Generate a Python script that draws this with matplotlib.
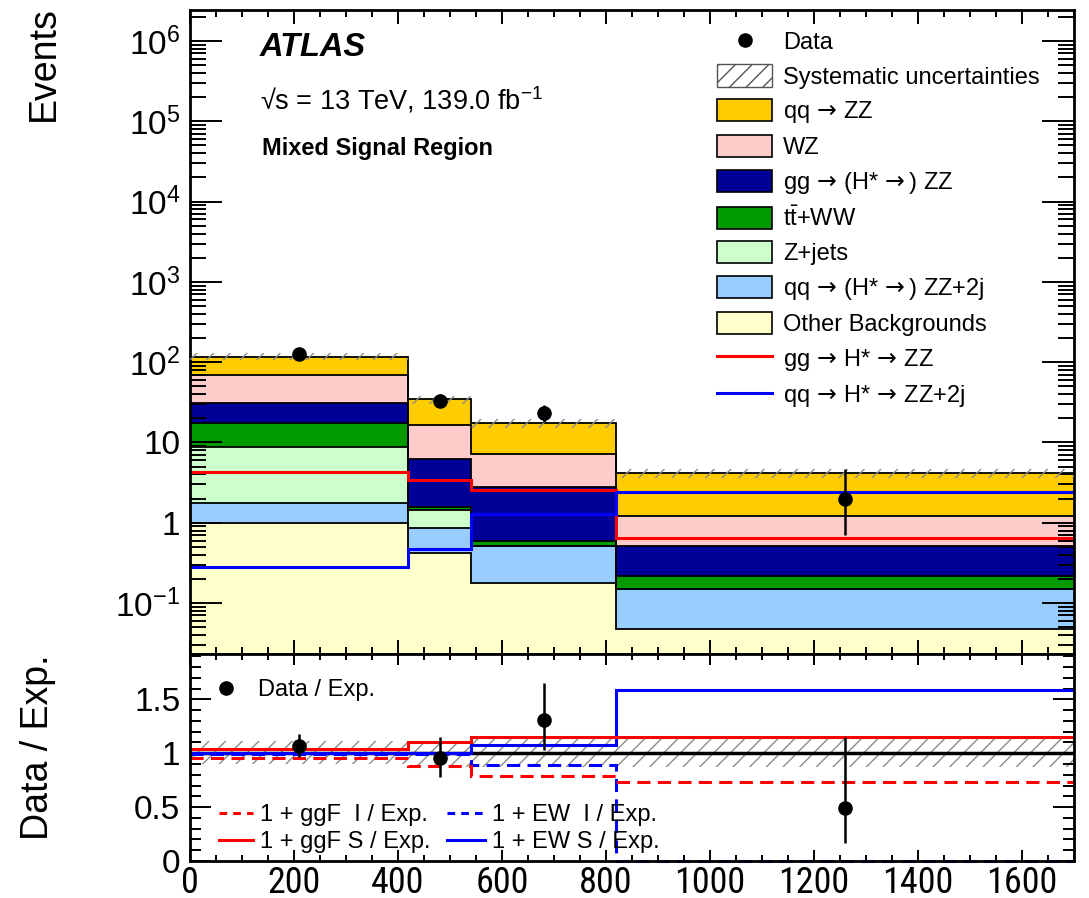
import numpy as np
import matplotlib
matplotlib.use("Agg")
import matplotlib.pyplot as plt
from matplotlib.patches import Patch
from matplotlib.lines import Line2D
from matplotlib.ticker import (FixedLocator, MultipleLocator, LogLocator,
                               NullFormatter, FuncFormatter)

# Binning (GeV) and bin centres
edges   = [0, 420, 540, 820, 1700]
centers = [210, 480, 680, 1260]

# Background yields per bin, stacked bottom -> top
other_bkg = [0.98, 0.42, 0.18, 0.048]
qq_zz2j   = [0.76, 0.44, 0.33, 0.10]
z_jets    = [7.1, 0.57, 0.0, 0.0]
tt_ww     = [8.8, 0.14, 0.09, 0.07]
gg_zz     = [13.6, 4.57, 2.15, 0.29]
wz        = [37.8, 10.35, 4.34, 0.71]
qq_zz     = [48.0, 18.2, 10.2, 2.9]

# Signal-only histograms
gg_sig = [4.3, 3.4, 2.55, 0.64]
ew_sig = [0.283, 0.47, 1.28, 2.39]

# Data
data        = [126, 33, 23, 2]
data_err_lo = [11.2, 5.7, 4.8, 1.3]
data_err_hi = [11.2, 6.8, 5.9, 2.65]

# Systematic band (relative to expectation)
sys_lo = [0.90, 0.87, 0.87, 0.87]
sys_hi = [1.11, 1.10, 1.14, 1.14]

# Ratio panel
ratio        = [1.067, 0.954, 1.307, 0.493]
ratio_err_lo = [0.104, 0.176, 0.277, 0.323]
ratio_err_hi = [0.111, 0.199, 0.344, 0.655]
ggf_int_r = [0.954, 0.877, 0.790, 0.729]
ggf_sig_r = [1.037, 1.108, 1.153, 1.153]
ew_int_r  = [0.995, 0.995, 0.892, 0.0]
ew_sig_r  = [1.000, 1.005, 1.077, 1.590]

xtick_vals = [0, 200, 400, 600, 800, 1000, 1200, 1400, 1600]

# Style
plt.rcParams['font.family'] = ['Liberation Sans', 'DejaVu Sans']
plt.rcParams['mathtext.fontset'] = 'custom'
plt.rcParams['mathtext.rm'] = 'Liberation Sans'
plt.rcParams['mathtext.it'] = 'Liberation Sans:italic'
plt.rcParams['mathtext.bf'] = 'Liberation Sans:bold'
plt.rcParams['mathtext.sf'] = 'DejaVu Sans'
plt.rcParams['mathtext.default'] = 'regular'
plt.rcParams['hatch.linewidth'] = 1.0
plt.rcParams['axes.linewidth'] = 2.0

ARR = r'$\mathsf{\,\rightarrow\,}$'
ARR_END = r'$\mathsf{\,\rightarrow}$'

stack = [
    (other_bkg, '#FFFFCC', 'Other Backgrounds'),
    (qq_zz2j,   '#99CCFF', 'qq' + ARR + '(H*' + ARR_END + ') ZZ+2j'),
    (z_jets,    '#CCFFCC', 'Z+jets'),
    (tt_ww,     '#009900', r't$\bar{t}$+WW'),
    (gg_zz,     '#000099', 'gg' + ARR + '(H*' + ARR_END + ') ZZ'),
    (wz,        '#FFCCCC', 'WZ'),
    (qq_zz,     '#FFCC00', 'qq' + ARR + 'ZZ'),
]

cum = np.cumsum(np.array([s[0] for s in stack]), axis=0)
total = cum[-1]

# Canvas
W, H = 1089, 898
fig = plt.figure(figsize=(W / 100, H / 100), dpi=100)
L, R = 190 / W, 1074 / W
ax  = fig.add_axes([L, 1 - 654 / H, R - L, (654 - 10) / H])
rax = fig.add_axes([L, 1 - 861 / H, R - L, (861 - 654) / H])

# ---- upper pad: stacked histogram
for i in range(len(stack) - 1, -1, -1):
    ax.stairs(cum[i], edges, baseline=1e-4, fill=True,
              facecolor=stack[i][1], edgecolor='none', zorder=1)
    ax.stairs(cum[i], edges, baseline=None, color='k', lw=1.3, zorder=1.5)

ax.stairs(gg_sig, edges, baseline=None, color='#FF0000', lw=2.2, zorder=2)
ax.stairs(ew_sig, edges, baseline=None, color='#0000FF', lw=2.2, zorder=2)

ax.stairs(total * np.array(sys_hi), edges, baseline=total * np.array(sys_lo),
          fill=True, facecolor='none', edgecolor='#8c8c8c', hatch='//',
          lw=0, zorder=3)

ax.errorbar(centers, data, yerr=[data_err_lo, data_err_hi], fmt='o',
            color='k', ms=9.5, elinewidth=1.8, capsize=0, zorder=4)

ax.set_yscale('log')
ax.set_ylim(0.0232, 2.43e6)
ax.set_xlim(0, 1700)
ax.yaxis.set_major_locator(LogLocator(base=10, numticks=20))
ax.yaxis.set_minor_locator(LogLocator(base=10, subs=np.arange(2, 10), numticks=20))
ax.yaxis.set_minor_formatter(NullFormatter())


def log_fmt(v, pos):
    if np.isclose(v, 1):
        return '1'
    if np.isclose(v, 10):
        return '10'
    return r'$10^{%d}$' % int(round(np.log10(v)))


ax.yaxis.set_major_formatter(FuncFormatter(log_fmt))
ax.xaxis.set_major_locator(MultipleLocator(200))
ax.xaxis.set_minor_locator(MultipleLocator(50))
ax.tick_params(which='both', direction='in', top=True, right=True, width=1.4,
               labelbottom=False, labelsize=24, pad=7)
ax.tick_params(axis='y', which='major', length=23)
ax.tick_params(axis='y', which='minor', length=11.5)
ax.tick_params(axis='x', which='major', length=10)
ax.tick_params(axis='x', which='minor', length=5)

# legend of upper pad
handles = [Line2D([], [], ls='none', marker='o', color='k', ms=9.5),
           Patch(facecolor='white', edgecolor='#555555', hatch='//', lw=1.0)]
labels = ['Data', 'Systematic uncertainties']
for vals, col, lab in stack[::-1]:
    handles.append(Patch(facecolor=col, edgecolor='k', lw=1.2))
    labels.append(lab)
handles += [Line2D([], [], color='#FF0000', lw=2.2),
            Line2D([], [], color='#0000FF', lw=2.2)]
labels += ['gg' + ARR + 'H*' + ARR + 'ZZ',
           'qq' + ARR + 'H*' + ARR + 'ZZ+2j']
ax.legend(handles, labels, loc='upper left',
          bbox_to_anchor=(717 / W, 1 - 30 / H), bbox_transform=fig.transFigure,
          frameon=False, fontsize=17, handlelength=2.33, handleheight=1.06,
          handletextpad=0.47, labelspacing=0.44, borderpad=0, borderaxespad=0)

fig.text(260 / W, 1 - 47 / H, 'ATLAS', fontsize=23.5, fontweight='bold',
         fontstyle='italic', va='center')
fig.text(260 / W, 1 - 100 / H, '√s = 13 TeV, 139.0 fb$^{-1}$', fontsize=19.5,
         va='center')
fig.text(262 / W, 1 - 148 / H, 'Mixed Signal Region', fontsize=17,
         fontweight='bold', va='center')

# ---- lower pad: ratio
rax.stairs(sys_hi, edges, baseline=sys_lo, fill=True, facecolor='none',
           edgecolor='#8c8c8c', hatch='//', lw=0, zorder=1)
rax.axhline(1.0, color='k', lw=2.5, zorder=1.5)
dash = (0, (4.3, 2.4))
rax.stairs(ew_int_r, edges, baseline=None, color='#0000FF', lw=2.2,
           ls=dash, zorder=2, clip_on=False)
rax.stairs(ggf_int_r, edges, baseline=None, color='#FF0000', lw=2.2,
           ls=dash, zorder=2)
rax.stairs(ew_sig_r, edges, baseline=None, color='#0000FF', lw=2.2, zorder=2)
rax.stairs(ggf_sig_r, edges, baseline=None, color='#FF0000', lw=2.2, zorder=2)
rax.errorbar(centers, ratio, yerr=[ratio_err_lo, ratio_err_hi], fmt='o',
             color='k', ms=9.5, elinewidth=1.8, capsize=0, zorder=4)

rax.set_xlim(0, 1700)
rax.set_ylim(0, 1.92)
rax.yaxis.set_major_locator(FixedLocator([0, 0.5, 1, 1.5]))
rax.yaxis.set_minor_locator(MultipleLocator(0.1))
rax.yaxis.set_major_formatter(FuncFormatter(lambda v, p: '%g' % v))
rax.set_xticks(xtick_vals)
rax.set_xticklabels([str(v) for v in xtick_vals],
                    fontfamily=['Roboto Condensed', 'Liberation Sans'],
                    fontsize=26)
rax.xaxis.set_minor_locator(MultipleLocator(50))
rax.tick_params(which='both', direction='in', top=True, right=True, width=1.4,
                pad=7)
rax.tick_params(axis='y', labelsize=24)
rax.tick_params(axis='x', which='major', length=8, pad=3)
rax.tick_params(axis='x', which='minor', length=4)
rax.tick_params(axis='y', which='major', length=15)
rax.tick_params(axis='y', which='minor', length=8)

leg1 = rax.legend([Line2D([], [], ls='none', marker='o', color='k', ms=9.5)],
                  ['Data / Exp.'], loc='upper left',
                  bbox_to_anchor=(210 / W, 1 - 679 / H),
                  bbox_transform=fig.transFigure, frameon=False, fontsize=17,
                  handlelength=1.36, handletextpad=0.68, borderpad=0,
                  borderaxespad=0)
rax.add_artist(leg1)
leg2 = rax.legend([Line2D([], [], color='#FF0000', lw=2.2, ls=(0, (2.5, 2.0))),
                   Line2D([], [], color='#FF0000', lw=2.2)],
                  ['1 + ggF  I / Exp.', '1 + ggF S / Exp.'], loc='upper left',
                  bbox_to_anchor=(219 / W, 1 - 804 / H),
                  bbox_transform=fig.transFigure, frameon=False, fontsize=17,
                  handlelength=1.45, handletextpad=0.3, labelspacing=0.21,
                  borderpad=0, borderaxespad=0)
rax.add_artist(leg2)
rax.legend([Line2D([], [], color='#0000FF', lw=2.2, ls=(0, (2.5, 2.0))),
            Line2D([], [], color='#0000FF', lw=2.2)],
           ['1 + EW  I / Exp.', '1 + EW S / Exp.'], loc='upper left',
           bbox_to_anchor=(447 / W, 1 - 804 / H),
           bbox_transform=fig.transFigure, frameon=False, fontsize=17,
           handlelength=1.6, handletextpad=0.3, labelspacing=0.21,
           borderpad=0, borderaxespad=0)

# axis titles
fig.text(0.040, 0.993, 'Events', rotation=90, ha='center', va='top',
         fontsize=27)
fig.text(0.035, 1 - 655 / H, 'Data / Exp.', rotation=90, ha='center',
         va='top', fontsize=27)

fig.savefig('out.png', dpi=100)
